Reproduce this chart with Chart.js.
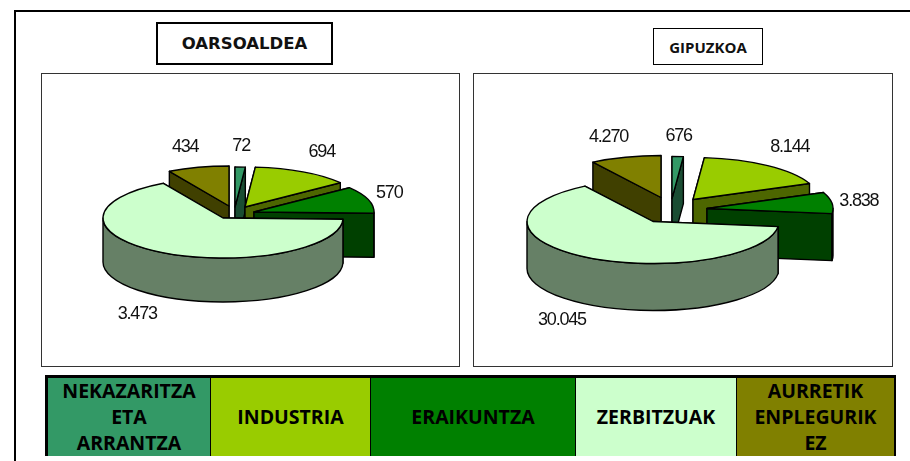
<!DOCTYPE html>
<html>
<head>
<meta charset="utf-8">
<script src="https://cdn.jsdelivr.net/npm/chart.js@4"></script>
<style>
  html, body { margin: 0; padding: 0; background: #fff; }
  #page { position: relative; width: 910px; height: 461px; overflow: hidden; font-family: "Open Sans", sans-serif; }
  .abs { position: absolute; box-sizing: border-box; }
  .title { border: 2px solid #000; display: flex; align-items: center; justify-content: center; font-weight: 700; color: #111; }
  .panel { border: 1.5px solid #333; background: #fff; }
  .cell { display: flex; align-items: center; justify-content: center; text-align: center; font-weight: 700; font-size: 19.5px; line-height: 26px; color: #000; }
</style>
</head>
<body>
<div id="page">
  <div class="abs" style="left:14px;top:10px;width:900px;height:460px;border:2px solid #000"></div>
  <div class="abs title" style="left:156px;top:22px;width:177px;height:43px;font-size:16.5px;font-family:'DejaVu Sans'">OARSOALDEA</div>
  <div class="abs title" style="left:653px;top:28px;width:110px;height:37px;font-size:15px;border-width:1.5px">GIPUZKOA</div>
  <div class="abs panel" style="left:41px;top:73px;width:419px;height:294px"><canvas id="oarsoaldea"></canvas></div>
  <div class="abs panel" style="left:473px;top:73px;width:420px;height:294px"><canvas id="gipuzkoa"></canvas></div>
  <div class="abs" id="legend" style="left:45px;top:375px;width:851px;height:81px;background:#000"></div>
</div>
<script>
const categories = [
  "NEKAZARITZA ETA ARRANTZA",
  "INDUSTRIA",
  "ERAIKUNTZA",
  "ZERBITZUAK",
  "AURRETIK ENPLEGURIK EZ",
];
const oarsoaldeaValues = [72, 694, 570, 3473, 434];
const gipuzkoaValues = [676, 8144, 3838, 30045, 4270];

const topColors = ["#339966", "#99CC00", "#008000", "#CCFFCC", "#808000"];
const wallColors = ["#1A4D33", "#4D6600", "#004000", "#668066", "#404000"];

// back to front, ZERBITZUAK has to cover the others
const drawOrder = [4, 0, 1, 2, 3];

const oarsoaldeaStyle = {
  radius: 120, squash: 40 / 120, depth: 44,
  shift: [[12, -11], [22, -11], [31, -6], [0, 0], [6, -12]],
  nudge: [[1, -21], [19, -20], [21, -7], [-24, 62], [-13, -20]],
};
const gipuzkoaStyle = {
  radius: 126, squash: 42 / 126, depth: 47,
  shift: [[19, -23], [40, -22], [54, -13], [0, 0], [8, -24]],
  nudge: [[1, -21], [22, -19], [27, -2], [-24, 63], [-17, -20]],
};

// legend cells
const legendWidths = [162, 159, 204, 160, 157];
const legend = document.getElementById("legend");
let legendX = 3;
categories.forEach((name, i) => {
  const cell = document.createElement("div");
  cell.className = "abs cell";
  cell.style.cssText = `left:${legendX}px;top:3px;width:${legendWidths[i]}px;height:78px;background:${topColors[i]}`;
  cell.innerHTML = name.replace("NEKAZARITZA ETA ARRANTZA", "NEKAZARITZA<br>ETA<br>ARRANTZA")
    .replace("AURRETIK ENPLEGURIK EZ", "AURRETIK<br>ENPLEGURIK<br>EZ");
  legend.appendChild(cell);
  legendX += legendWidths[i] + 1;
});

const formatValue = (v) => String(v).replace(/\B(?=(\d{3})+$)/g, ".");

const pie3d = {
  id: "pie3d",
  beforeDatasetsDraw(chart, args, opts) {
    const ctx = chart.ctx;
    const meta = chart.getDatasetMeta(0);
    const { squash, depth, shift, nudge } = opts.look;
    const values = chart.data.datasets[0].data;

    const outlinePath = (arc, dx, dy) => {
      ctx.save();
      ctx.translate(arc.x + dx, arc.y + dy);
      ctx.scale(1, squash);
      ctx.beginPath();
      ctx.moveTo(0, 0);
      ctx.arc(0, 0, arc.outerRadius, arc.startAngle, arc.endAngle);
      ctx.closePath();
      ctx.restore();
    };

    drawOrder.forEach((i) => {
      const arc = meta.data[i];
      const [dx, dy] = shift[i];
      const cx = arc.x + dx;
      const cy = arc.y + dy;
      const r = arc.outerRadius;
      const ry = r * squash;
      const edge = (a) => [cx + r * Math.cos(a), cy + ry * Math.sin(a)];

      ctx.lineWidth = 1.4;
      ctx.strokeStyle = "#000";
      ctx.lineJoin = "round";
      ctx.fillStyle = wallColors[i];

      // flat cut faces, the one further back first
      const faces = [arc.startAngle, arc.endAngle].sort((a, b) => Math.sin(a) - Math.sin(b));
      faces.forEach((a) => {
        const [ex, ey] = edge(a);
        ctx.beginPath();
        ctx.moveTo(cx, cy);
        ctx.lineTo(ex, ey);
        ctx.lineTo(ex, ey + depth);
        ctx.lineTo(cx, cy + depth);
        ctx.closePath();
        ctx.fill();
        ctx.stroke();
      });

      // rim, only the half turned to the viewer
      const from = Math.max(arc.startAngle, 0);
      const to = Math.min(arc.endAngle, Math.PI);
      if (to > from) {
        ctx.save();
        ctx.translate(cx, cy);
        ctx.scale(1, squash);
        ctx.beginPath();
        ctx.arc(0, 0, r, from, to);
        ctx.arc(0, depth / squash, r, to, from, true);
        ctx.closePath();
        ctx.restore();
        ctx.fill();
        ctx.stroke();
      }

      // top face comes from the library's own arc
      ctx.save();
      ctx.translate(cx, cy);
      ctx.scale(1, squash);
      ctx.translate(-arc.x, -arc.y);
      arc.draw(ctx);
      ctx.restore();
      outlinePath(arc, dx, dy);
      ctx.stroke();
    });

    // value labels
    ctx.save();
    ctx.font = '18px "Liberation Sans"';
    ctx.letterSpacing = "-1.2px";
    ctx.fillStyle = "#111";
    ctx.textAlign = "center";
    ctx.textBaseline = "middle";
    meta.data.forEach((arc, i) => {
      const mid = (arc.startAngle + arc.endAngle) / 2;
      const x = arc.x + shift[i][0] + arc.outerRadius * Math.cos(mid) + nudge[i][0];
      const y = arc.y + shift[i][1] + arc.outerRadius * squash * Math.sin(mid) + nudge[i][1];
      ctx.fillText(formatValue(values[i]), x, y);
    });
    ctx.restore();
    return false;
  },
};

function makePie(id, values, look, padding) {
  const canvas = document.getElementById(id);
  canvas.width = 416;
  canvas.height = 291;
  canvas.style.width = "416px";
  canvas.style.height = "291px";
  return new Chart(canvas.getContext("2d"), {
    type: "pie",
    data: {
      labels: categories,
      datasets: [{ data: values, backgroundColor: topColors, borderWidth: 0 }],
    },
    plugins: [pie3d],
    options: {
      responsive: false,
      animation: false,
      radius: look.radius,
      layout: { padding },
      plugins: {
        legend: { display: false },
        tooltip: { enabled: false },
        pie3d: { look },
      },
    },
  });
}

// paddings place the pie centre inside each panel
makePie("oarsoaldea", oarsoaldeaValues, oarsoaldeaStyle, { left: 0, right: 54, top: 0, bottom: 3 });
makePie("gipuzkoa", gipuzkoaValues, gipuzkoaStyle, { left: 0, right: 58, top: 4, bottom: 0 });
</script>
</body>
</html>
